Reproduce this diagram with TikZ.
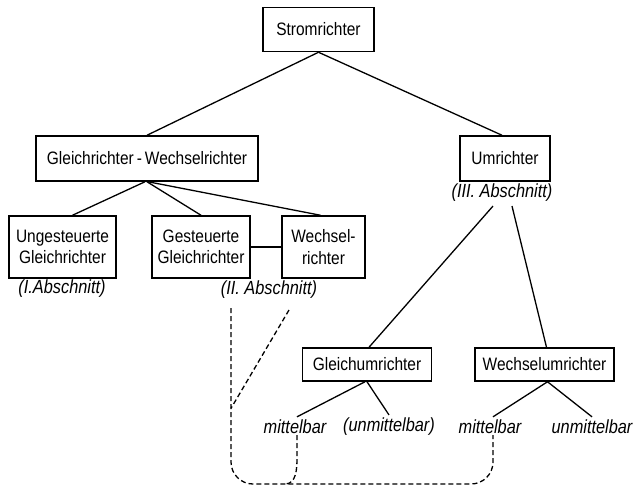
\documentclass[tikz,border=0pt]{standalone}
\usepackage{fontspec}
\setmainfont{Liberation Sans}[FakeStretch=0.86]
\usetikzlibrary{calc,positioning}

\begin{document}
\begin{tikzpicture}[
  x=1pt, y=1pt,
  box/.style={
    draw,
    line width=1.5pt,
    align=center,
    inner sep=0pt,
    font=\fontsize{18}{21.5}\selectfont
  },
  tag/.style={
    inner sep=1pt,
    font=\fontsize{19}{21}\selectfont\itshape
  },
  link/.style={line width=1.3pt},
  dashlink/.style={link, dash pattern=on 5pt off 3pt}
]
\useasboundingbox (0,0) rectangle (634,-488);

% Top of the tree.
\node[box, minimum width=111pt, minimum height=44pt] (strom) at (318.5,-29.5) {Stromrichter};
\node[box, minimum width=222pt, minimum height=45pt] (gw) at (147,-158.5) {Gleichrichter\,-\,Wechselrichter};
\node[box, minimum width=90pt, minimum height=45pt] (um) at (505,-158.5) {Umrichter};
\node[tag] (umtag) at (502,-193) {(III. Abschnitt)};

% Second row on the left.
\node[box, minimum width=107pt, minimum height=62pt] (ung) at (62.5,-247) {Ungesteuerte\\Gleichrichter};
\node[box, minimum width=98pt, minimum height=62pt] (ges) at (201,-247) {Gesteuerte\\Gleichrichter};
\node[box, minimum width=83pt, minimum height=62pt] (wr) at (323.5,-247) {Wechsel-\\richter};
\node[tag] (ungtag) at (62,-289) {(I.Abschnitt)};
\node[tag] (gestag) at (269,-290) {(II. Abschnitt)};

% Umrichter branches.
\node[box, minimum width=129pt, minimum height=33pt] (gu) at (367,-364.5) {Gleichumrichter};
\node[box, minimum width=139pt, minimum height=33pt] (wu) at (544.5,-364.5) {Wechselumrichter};
\node[tag] (m1) at (295,-427) {mittelbar};
\node[tag] (u1) at (389,-427) {(unmittelbar)};
\node[tag] (m2) at (490,-427) {mittelbar};
\node[tag] (u2) at (592,-427) {unmittelbar};

\draw[link] (strom.south) -- (gw.north);
\draw[link] (strom.south) -- ([xshift=-3pt]um.north);
\draw[link] ([xshift=-2pt]gw.south) -- ([xshift=10pt]ung.north);
\draw[link] (gw.south) -- (ges.north);
\draw[link] ([xshift=1pt]gw.south) -- ([xshift=-3pt]wr.north);
\draw[link] (ges.east) -- (wr.west);

\draw[link] ([xshift=-9pt,yshift=-3pt]umtag.south) -- ([xshift=2pt]gu.north);
\draw[link] ([xshift=10pt,yshift=-3pt]umtag.south) -- ([xshift=2pt]wu.north);
\draw[link] ([xshift=-2pt]gu.south) -- ([xshift=2pt,yshift=2pt]m1.north);
\draw[link] (gu.south) -- ([yshift=2pt]u1.north);
\draw[link] ([xshift=3pt]wu.south) -- ([xshift=3pt,yshift=2pt]m2.north);
\draw[link] ([xshift=3pt]wu.south) -- ([yshift=2pt]u2.north);

% Dashed links back to the second section.
\coordinate (d1) at (231,-308);
\coordinate (d2) at (289,-310);
\coordinate (bot) at (0,-484);
\coordinate (m1foot) at ([xshift=2pt]m1.south);
\coordinate (m2foot) at ([xshift=3pt]m2.south);
\draw[dashlink, rounded corners=22pt] (d1) -- (d1 |- bot) -- (m2foot |- bot) -- (m2foot);
\draw[dashlink] (d2) -- ($(d1)!0.57!(d1 |- bot)$);
\draw[dashlink] (m1foot) -- ++(0,-22) to[out=-90,in=0] ($(m1foot |- bot)+(-12,0)$);

\end{tikzpicture}
\end{document}
